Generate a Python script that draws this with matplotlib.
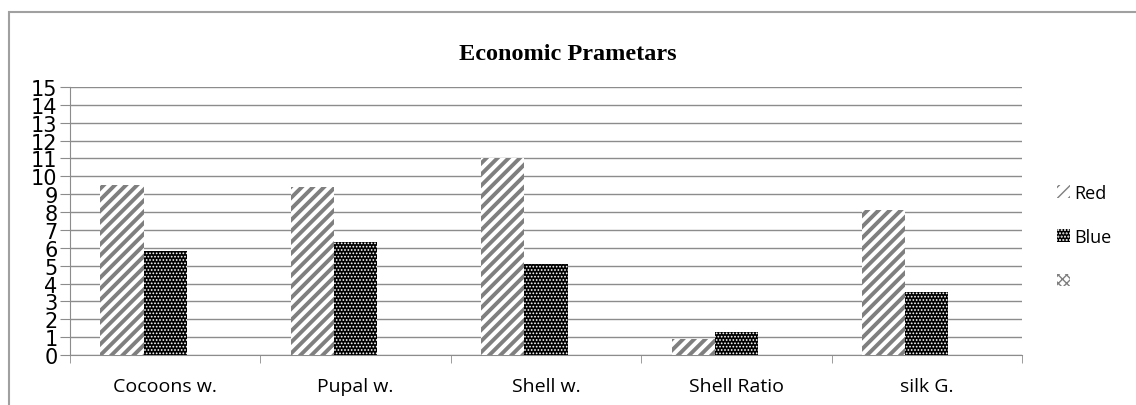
import numpy as np
import matplotlib.pyplot as plt
from matplotlib.patches import Rectangle

categories = ["Cocoons w.", "Pupal w.", "Shell w.", "Shell Ratio", "silk G."]
red_vals = [9.5, 9.4, 11.0, 0.9, 8.1]
blue_vals = [5.8, 6.3, 5.1, 1.3, 3.5]
empty_vals = [0, 0, 0, 0, 0]
y_ticks = list(range(0, 16))

fig = plt.figure(figsize=(11.36, 4.06), dpi=100)
ax = fig.add_axes([70 / 1136, 1 - 356 / 406, 952 / 1136, 268 / 406])

# outer chart border
fig.patches.append(Rectangle((9 / 1136, -0.1), 1.2, 1 - 13 / 406 + 0.1,
                             transform=fig.transFigure, fill=False,
                             edgecolor="#a0a0a0", lw=1.5))

x = np.arange(len(categories))
w = 0.227
with plt.rc_context({"hatch.linewidth": 2.8}):
    ax.bar(x - w, red_vals, w, color="white", edgecolor="#7f7f7f", hatch="///",
           lw=0, label="Red", zorder=3)
with plt.rc_context({"hatch.linewidth": 0.8}):
    ax.bar(x, blue_vals, w, color="black", edgecolor="white", hatch=".....",
           lw=0, label="Blue", zorder=3)
    ax.bar(x + w, empty_vals, w, color="white", edgecolor="#808080", hatch="xxxx",
           lw=0, label=" ", zorder=3)

ax.set_xlim(-0.5, len(categories) - 0.5)
ax.set_ylim(0, 15)
ax.set_yticks(y_ticks)
ax.set_yticklabels([str(v) for v in y_ticks], family="Liberation Sans Narrow",
                   fontsize=15)
ax.yaxis.grid(True, color="#8c8c8c", lw=1, zorder=0)
ax.tick_params(axis="y", length=7, color="#8c8c8c", pad=2)
ax.set_xticks(x)
ax.set_xticklabels(categories, family="Open Sans", fontsize=14)
ax.set_xticks(np.arange(len(categories) + 1) - 0.5, minor=True)
ax.tick_params(axis="x", which="major", length=0, pad=16)
ax.tick_params(axis="x", which="minor", length=6, color="#8c8c8c")

for s in ["top", "right"]:
    ax.spines[s].set_visible(False)
for s in ["left", "bottom"]:
    ax.spines[s].set_color("#8c8c8c")

fig.text(0.5, 1 - 55 / 406, "Economic Prametars", ha="center", va="center",
         family="Liberation Serif", fontweight="bold", fontsize=17.5)

ax.legend(loc="center left", bbox_to_anchor=(1.02, 0.44), frameon=False,
          prop={"family": "Open Sans", "size": 13}, handlelength=0.7,
          handleheight=0.7, handletextpad=0.25, labelspacing=1.45)

fig.savefig("out.png")
